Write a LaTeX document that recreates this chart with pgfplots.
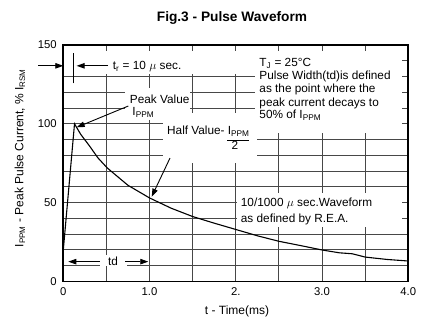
\documentclass[border=0pt]{standalone}
\usepackage{pgfplots}
\pgfplotsset{compat=1.18}
\usepackage{fontspec}
\setmainfont{Liberation Sans}
\usetikzlibrary{arrows.meta}
\tikzset{ann/.style={-{Triangle[length=8pt,width=5.5pt]}, line width=0.9pt},
         lbl/.style={font=\fontsize{11.8}{13}\selectfont, inner sep=0pt}}
\begin{document}
\begin{tikzpicture}[x=1pt,y=1pt]
\useasboundingbox (-63.3,-48.5) rectangle (364.7,281.5);
\begin{axis}[
 at={(0,0)}, anchor=south west, scale only axis, width=345pt, height=236.5pt,
 xmin=0, xmax=4, ymin=0, ymax=150,
 xtick={0,0.5,1,1.5,2,2.5,3,3.5,4}, xticklabels={0,,1.0,,2.,,3.0,,4.0},
 ytick={0,10,...,150}, yticklabels={0,,,,,50,,,,,100,,,,,150},
 major tick length=0pt,
 grid=major, grid style={draw=black!72, line width=1pt},
 axis line style={line width=1.6pt},
 tick label style={font=\fontsize{11.3}{13}\selectfont},
 xticklabel style={yshift=-3pt},
 yticklabel style={xshift=-3pt},
 clip=false,
]
% white patches behind the notes
\fill[white] (axis cs:0.008,131.6) rectangle (axis cs:3.927,146.2);
\fill[white] (axis cs:2.223,94.2) rectangle (axis cs:3.927,146.2);
\fill[white] (axis cs:0.715,102.4) rectangle (axis cs:1.469,122.9);
\fill[white] (axis cs:1.156,75.1) rectangle (axis cs:2.246,106.8);
\fill[white] (axis cs:2.014,34.6) rectangle (axis cs:3.927,56.4);
\fill[white] (axis cs:0.426,9.8) rectangle (axis cs:0.739,17.1);
\addplot[black, line width=1.1pt] coordinates {
(0,0) (0,20) (0.13,100) (0.2,93.5) (0.31,85.5) (0.4,78.5) (0.51,72) (0.75,61)
(1.0,53) (1.25,46.5) (1.5,41.2) (1.75,37) (2.0,33) (2.25,29) (2.5,25.5)
(2.75,22.8) (3.0,20) (3.2,18.2) (3.35,17.6) (3.5,15.5) (3.75,14) (4.0,13)};
% t_r annotation
\draw[ann] (axis cs:-0.29,136.8) -- (axis cs:0,136.8);
\draw[line width=1.1pt] (axis cs:0.116,125.7) -- (axis cs:0.116,144.7);
\draw[ann] (axis cs:0.52,136.8) -- (axis cs:0.155,136.8);
\node[lbl, anchor=base west] at (axis cs:0.573,134.5) {t\textsubscript{r} = 10 $\mu$ sec.};
% peak
\node[lbl, anchor=base west] at (axis cs:0.77,113.2) {Peak Value};
\node[lbl, anchor=base west] at (axis cs:0.80,105.3) {I\textsubscript{PPM}};
\draw[ann] (axis cs:0.754,111.3) -- (axis cs:0.155,97.8);
% half value
\node[lbl, anchor=base west] at (axis cs:1.202,93.2) {Half Value- I\textsubscript{PPM}};
\draw[line width=1.2pt] (axis cs:1.90,89.6) -- (axis cs:2.15,89.6);
\node[lbl, anchor=base] at (axis cs:1.99,83.6) {2};
\draw[ann] (axis cs:1.237,78.3) -- (axis cs:1.025,53.8);
% T_J block
\node[lbl, anchor=base west] at (axis cs:2.272,136.4) {T\textsubscript{J} = 25°C};
\node[lbl, anchor=base west] at (axis cs:2.272,128.1) {Pulse Width(td)is defined};
\node[lbl, anchor=base west] at (axis cs:2.272,119.6) {as the point where the};
\node[lbl, anchor=base west] at (axis cs:2.272,111.3) {peak current decays to};
\node[lbl, anchor=base west] at (axis cs:2.272,103.2) {50\% of I\textsubscript{PPM}};
% waveform note
\node[lbl, anchor=base west] at (axis cs:2.057,47.6) {10/1000 $\mu$ sec.Waveform};
\node[lbl, anchor=base west] at (axis cs:2.057,37.3) {as defined by R.E.A.};
% td
\draw[ann] (axis cs:0.425,12.6) -- (axis cs:0.058,12.6);
\draw[ann] (axis cs:0.719,12.6) -- (axis cs:0.985,12.6);
\node[lbl] at (axis cs:0.576,12.6) {td};
\end{axis}
\node[font=\bfseries\fontsize{13.7}{16}\selectfont] at (168.7,263.2) {Fig.3 - Pulse Waveform};
\node[font=\fontsize{12}{14}\selectfont, rotate=90] at (-43.3,123.5) {I\textsubscript{PPM} - Peak Pulse Current, \% I\textsubscript{RSM}};
\node[font=\fontsize{12}{14}\selectfont] at (173.7,-30.2) {t - Time(ms)};
\end{tikzpicture}
\end{document}
